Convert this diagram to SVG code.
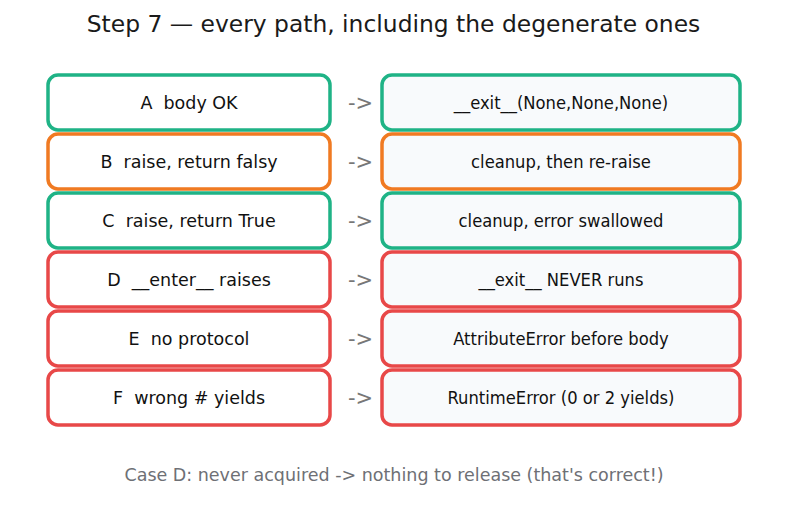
<svg xmlns="http://www.w3.org/2000/svg" width="787" height="510" viewBox="0 0 787 510">
<style>
text{font-family:"DejaVu Sans",sans-serif;white-space:pre}
.t{font-size:23.4px;fill:#1a1a1a;text-anchor:middle}
.l{fill:#ffffff;stroke-width:3.5}
.r{fill:#f8fafc;stroke-width:3.5}
.g{stroke:#1fb386}
.o{stroke:#f07a22}
.d{stroke:#e84848}
.lab{font-size:17.5px;fill:#111;text-anchor:middle;dominant-baseline:central}
.rab{font-family:"DejaVu Sans Condensed","DejaVu Sans",sans-serif;font-stretch:condensed;font-size:18.2px;fill:#111;text-anchor:middle;dominant-baseline:central}
.arr{font-size:21px;fill:#777;text-anchor:middle;dominant-baseline:central}
.foot{font-size:17.5px;fill:#6e7075;text-anchor:middle}
</style>
<rect width="787" height="510" fill="#fff"/>
<text class="t" x="393.5" y="32">Step 7 — every path, including the degenerate ones</text>
<g id="A"><rect class="l g" x="48" y="75" width="282" height="55" rx="10"/><text class="lab" x="189" y="102.5" xml:space="preserve">A  body OK</text></g>
<g id="A2"><rect class="r g" x="382" y="75" width="358" height="55" rx="10"/><text class="rab" x="561" y="102.5">__exit__(None,None,None)</text></g>
<g id="B"><rect class="l o" x="48" y="134" width="282" height="55" rx="10"/><text class="lab" x="189" y="161.5" xml:space="preserve">B  raise, return falsy</text></g>
<g id="B2"><rect class="r o" x="382" y="134" width="358" height="55" rx="10"/><text class="rab" x="561" y="161.5">cleanup, then re-raise</text></g>
<g id="C"><rect class="l g" x="48" y="193" width="282" height="55" rx="10"/><text class="lab" x="189" y="220.5" xml:space="preserve">C  raise, return True</text></g>
<g id="C2"><rect class="r g" x="382" y="193" width="358" height="55" rx="10"/><text class="rab" x="561" y="220.5">cleanup, error swallowed</text></g>
<g id="D"><rect class="l d" x="48" y="252" width="282" height="55" rx="10"/><text class="lab" x="189" y="279.5" xml:space="preserve">D  __enter__ raises</text></g>
<g id="D2"><rect class="r d" x="382" y="252" width="358" height="55" rx="10"/><text class="rab" x="561" y="279.5">__exit__ NEVER runs</text></g>
<g id="E"><rect class="l d" x="48" y="311" width="282" height="55" rx="10"/><text class="lab" x="189" y="338.5" xml:space="preserve">E  no protocol</text></g>
<g id="E2"><rect class="r d" x="382" y="311" width="358" height="55" rx="10"/><text class="rab" x="561" y="338.5">AttributeError before body</text></g>
<g id="F"><rect class="l d" x="48" y="370" width="282" height="55" rx="10"/><text class="lab" x="189" y="397.5" xml:space="preserve">F  wrong # yields</text></g>
<g id="F2"><rect class="r d" x="382" y="370" width="358" height="55" rx="10"/><text class="rab" x="561" y="397.5">RuntimeError (0 or 2 yields)</text></g>
<g id="connectors">
<text class="arr" x="360.5" y="102.5">-&gt;</text>
<text class="arr" x="360.5" y="161.5">-&gt;</text>
<text class="arr" x="360.5" y="220.5">-&gt;</text>
<text class="arr" x="360.5" y="279.5">-&gt;</text>
<text class="arr" x="360.5" y="338.5">-&gt;</text>
<text class="arr" x="360.5" y="397.5">-&gt;</text>
</g>
<text class="foot" x="394" y="481">Case D: never acquired -&gt; nothing to release (that's correct!)</text>
</svg>
